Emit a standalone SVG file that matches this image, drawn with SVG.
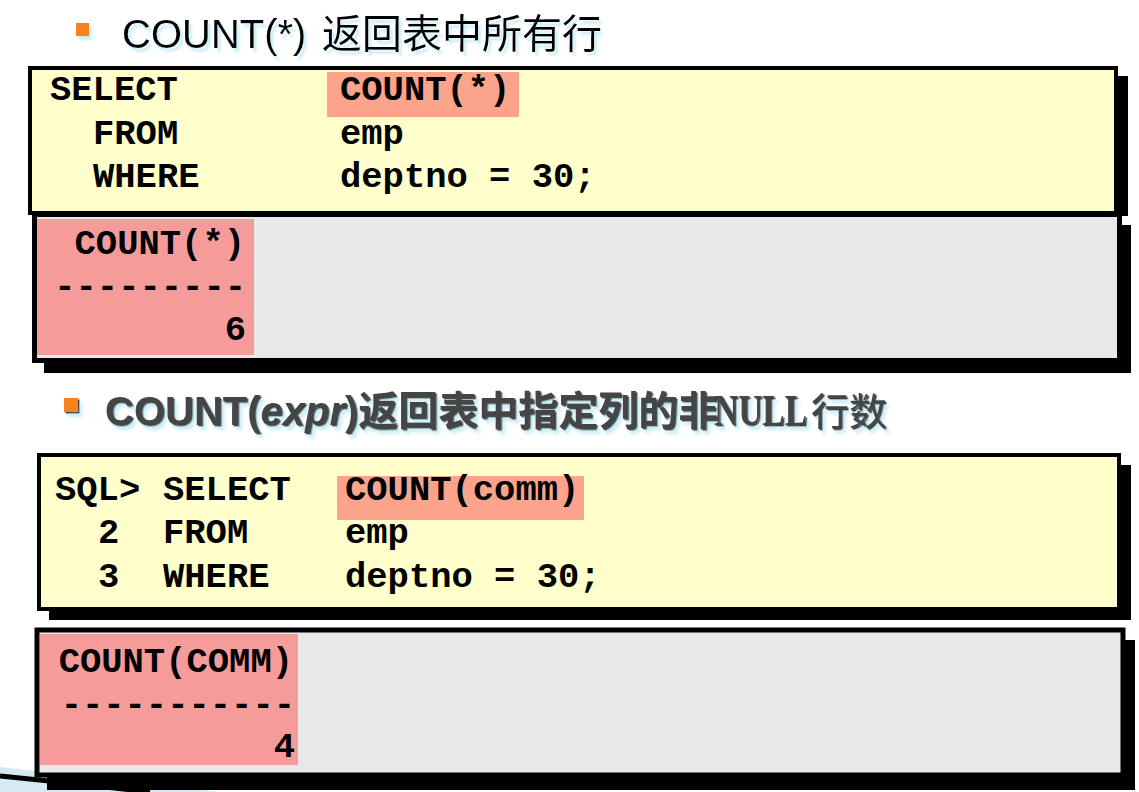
<svg xmlns="http://www.w3.org/2000/svg" width="1139" height="792" viewBox="0 0 1139 792">
<defs>
<style>
.code{font-family:"Liberation Mono","DejaVu Sans Mono",monospace;font-weight:bold;font-size:35.5px;fill:#000}
.shadow{fill:#000}
.yellow{fill:#FFFFCC;stroke:#000;stroke-width:4}
.gray{fill:#E8E8E8;stroke:#000;stroke-width:5}
.hl{fill:#FCA48B}
.res{fill:#F59C9A}
.bullet{fill:#F7821E}
.t1{font-family:"Liberation Sans","Noto Sans CJK SC",sans-serif;font-size:40px;fill:#000}
.t2{font-family:"Liberation Sans","Noto Sans CJK SC",sans-serif;font-size:40px;font-weight:bold;fill:#444}
.null{font-family:"Liberation Serif",serif;font-size:36px;font-weight:bold;fill:#444}
.rows{font-weight:normal;font-size:38px}
</style>
<filter id="glow1" x="-5%" y="-20%" width="115%" height="150%">
<feDropShadow dx="3" dy="4" stdDeviation="1" flood-color="#CDEEF7" flood-opacity="1"/>
</filter>
<filter id="glow2" x="-5%" y="-20%" width="115%" height="150%">
<feDropShadow dx="1.5" dy="1.5" stdDeviation="0.3" flood-color="#111" flood-opacity="0.9" result="a"/>
<feDropShadow in="a" dx="3" dy="4" stdDeviation="1.5" flood-color="#CDEEF7" flood-opacity="1"/>
</filter>
</defs>
<rect x="0" y="0" width="1139" height="792" fill="#fff"/>

<g id="decor">
<polygon points="0,767 220,792 0,792" fill="#D6EAF1"/>
<path d="M0,776 Q70,783 150,792" fill="none" stroke="#000" stroke-width="5"/>
</g>

<g id="title1" filter="url(#glow1)">
<rect class="bullet" x="76" y="23" width="13" height="13"/>
<text class="t1" x="122" y="48">COUNT(*) <tspan x="322">返回表中所有行</tspan></text>
</g>

<g id="query1">
<rect class="shadow" x="40" y="76" width="1088" height="140"/>
<rect class="yellow" x="30" y="68" width="1086" height="145"/>
<rect class="hl" x="327" y="72" width="192" height="45"/>
<text class="code" x="50" y="100">SELECT</text>
<text class="code" x="340" y="100">COUNT(*)</text>
<text class="code" x="93" y="144">FROM</text>
<text class="code" x="340" y="144">emp</text>
<text class="code" x="93" y="187">WHERE</text>
<text class="code" x="340" y="187">deptno = 30;</text>
</g>

<g id="result1">
<rect class="shadow" x="44" y="225" width="1087" height="148"/>
<rect class="gray" x="34.5" y="214.5" width="1085" height="146"/>
<rect class="res" x="37" y="219" width="217" height="136"/>
<text class="code" x="245" y="254" text-anchor="end">COUNT(*)</text>
<text class="code" x="246" y="297" text-anchor="end">---------</text>
<text class="code" x="246" y="340" text-anchor="end">6</text>
</g>

<g id="title2" filter="url(#glow2)">
<rect class="bullet" x="64" y="398" width="14" height="14"/>
<text class="t2" x="105" y="425">COUNT(<tspan font-style="italic">expr</tspan>)返回表中指定列的非</text>
<text class="null" x="0" y="0" transform="translate(714,425) scale(0.93,1.25)">NULL</text>
<text class="t2 rows" x="811" y="425">行数</text>
</g>

<g id="query2">
<rect class="shadow" x="49" y="465" width="1082" height="155"/>
<rect class="yellow" x="39" y="455" width="1080" height="154"/>
<rect class="hl" x="337" y="476" width="247" height="44"/>
<text class="code" x="55" y="500">SQL&gt;</text>
<text class="code" x="163" y="500">SELECT</text>
<text class="code" x="345" y="500">COUNT(comm)</text>
<text class="code" x="98" y="543">2</text>
<text class="code" x="163" y="543">FROM</text>
<text class="code" x="345" y="543">emp</text>
<text class="code" x="98" y="587">3</text>
<text class="code" x="163" y="587">WHERE</text>
<text class="code" x="345" y="587">deptno = 30;</text>
</g>

<g id="result2">
<rect class="shadow" x="47" y="640" width="1088" height="150"/>
<rect class="gray" x="37" y="630" width="1086" height="145" stroke-width="4"/>
<rect class="res" x="40" y="634" width="258" height="131"/>
<text class="code" x="293" y="672" text-anchor="end">COUNT(COMM)</text>
<text class="code" x="295" y="715" text-anchor="end">-----------</text>
<text class="code" x="295" y="757" text-anchor="end">4</text>
</g>
</svg>
